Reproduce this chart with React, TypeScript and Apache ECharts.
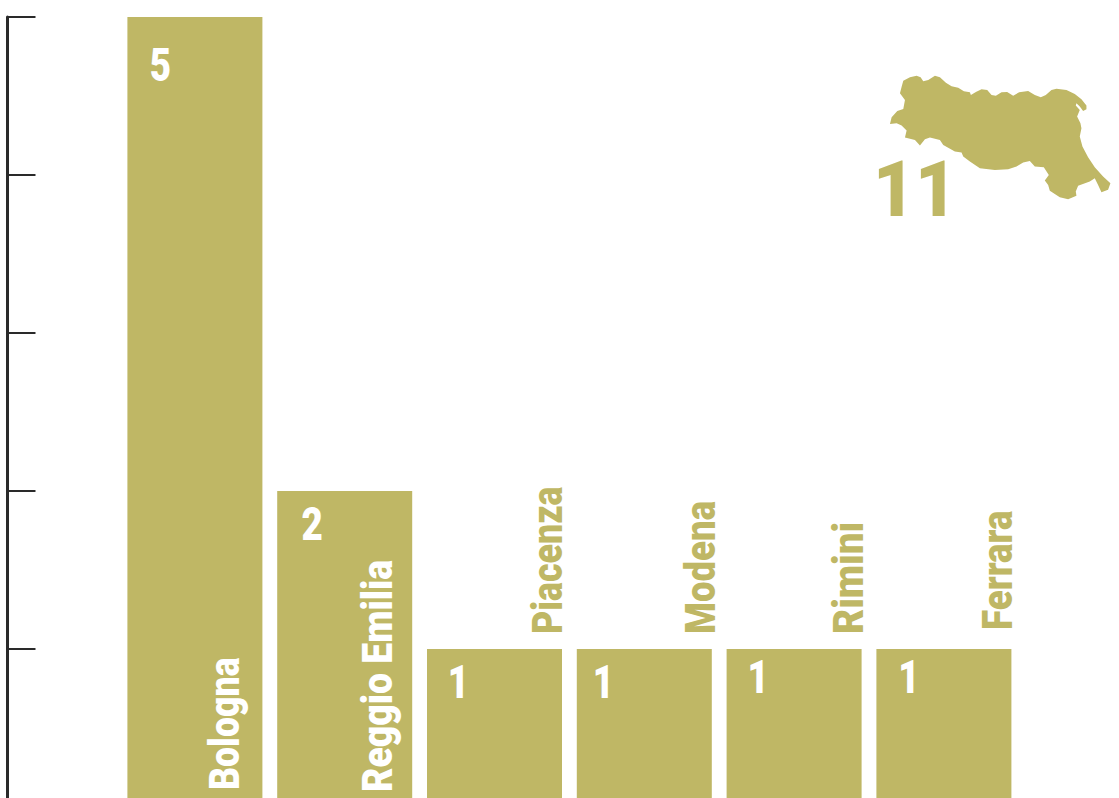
import React, { useEffect, useRef } from "react";
import * as echarts from "echarts";

const categories = ["Bologna", "Reggio Emilia", "Piacenza", "Modena", "Rimini", "Ferrara"];
const values = [5, 2, 1, 1, 1, 1];
const totalLabel = "11";

const OLIVE = "#BFB765";
const AXIS = "#2A2A2A";
const FONT = "Roboto, 'Liberation Sans', sans-serif";

// label placement relative to each bar's band centre / top edge
const numberOffset = [[-34.5, 48], [-32.5, 33], [-36, 33], [-41, 33], [-36, 28], [-35, 28]];
const nameOffset = [[30, -17], [33.5, -15], [53.5, -15], [56, -15], [54.5, -15], [53.5, -19]];
const nameStretch = [0.85, 0.89, 0.85, 0.87, 0.92, 0.875];
const nameInside = [true, true, false, false, false, false];

const REGION =
  "M130,62 L150,52 170,47 182,52 190,64 205,60 225,47 240,52 258,68 275,79 295,83 312,94 330,97 333,105 348,96 365,88 382,90 395,105 408,107 425,97 442,96 460,107 478,97 505,93 525,105 543,112 558,105 575,90 590,86 620,90 645,102 665,118 680,137 680,148 670,153 660,140 650,130 648,137 660,150 652,170 662,190 665,205 660,230 668,260 685,292 705,322 730,350 752,370 745,390 725,397 715,375 705,355 690,365 655,378 648,395 650,408 625,418 600,412 570,393 565,375 555,362 567,345 552,322 525,320 510,303 490,308 470,320 445,328 405,330 360,325 330,305 310,290 305,278 285,275 250,255 240,240 210,233 195,238 180,257 165,240 135,233 140,212 125,197 110,190 90,192 95,172 112,153 130,147 135,120 120,100 125,80 Z";

echarts.graphic.registerShape("region", echarts.graphic.extendPath(REGION, {}) as any);

export default function App() {
  const ref = useRef<HTMLDivElement>(null);
  useEffect(() => {
    document.body.style.margin = "0";
    document.body.style.overflow = "hidden";
    const chart = echarts.init(ref.current!, null, { renderer: "svg" });
    chart.setOption({
      animation: false,
      backgroundColor: "#fff",
      grid: { left: 120, width: 898.8, top: 17, height: 790, outerBoundsMode: "none" },
      xAxis: {
        type: "category",
        data: categories,
        axisLine: { show: false },
        axisTick: { show: false },
        axisLabel: { show: false },
      },
      yAxis: {
        type: "value",
        min: 0,
        max: 5,
        interval: 1,
        offset: 112.5,
        splitLine: { show: false },
        axisLabel: { show: false },
        axisLine: { show: true, lineStyle: { color: AXIS, width: 3 } },
        axisTick: { show: true, inside: true, length: 28, lineStyle: { color: AXIS, width: 2 } },
      },
      series: [
        {
          type: "bar",
          barWidth: 135,
          z: 1,
          itemStyle: { color: OLIVE },
          silent: true,
          data: values,
        },
        {
          type: "custom",
          silent: true,
          z: 10,
          data: values.map((v, i) => [i, v]),
          clip: false,
          renderItem: (_: any, api: any) => {
            const i = api.value(0);
            const v = api.value(1);
            const top = api.coord([i, v]);
            const zero = api.coord([i, 0]);
            const inside = nameInside[i];
            const anchorY = inside ? zero[1] : top[1];
            return {
              type: "group",
              children: [
                {
                  type: "text",
                  z2: 20,
                  x: top[0] + numberOffset[i][0],
                  y: top[1] + numberOffset[i][1],
                  scaleX: 0.8,
                  style: {
                    text: String(v),
                    fill: "#fff",
                    font: `900 46px ${FONT}`,
                    align: "center",
                    verticalAlign: "middle",
                  },
                },
                {
                  type: "text",
                  z2: 20,
                  x: top[0] + nameOffset[i][0],
                  y: anchorY + nameOffset[i][1],
                  rotation: Math.PI / 2,
                  scaleX: nameStretch[i],
                  style: {
                    text: categories[i],
                    fill: inside ? "#fff" : OLIVE,
                    font: `900 42px ${FONT}`,
                    align: "left",
                    verticalAlign: "middle",
                  },
                },
              ],
            };
          },
        },
      ],
      graphic: [
        {
          type: "region",
          x: 860,
          y: 60,
          scaleX: 1 / 3,
          scaleY: 1 / 3,
          style: { fill: OLIVE },
        },
        {
          type: "text",
          x: 873,
          y: 151,
          scaleX: 0.94,
          style: {
            text: totalLabel,
            fill: OLIVE,
            font: `900 77px ${FONT}`,
          },
        },
      ],
    });
    return () => chart.dispose();
  }, []);
  return <div ref={ref} style={{ width: 1119, height: 798 }} />;
}
